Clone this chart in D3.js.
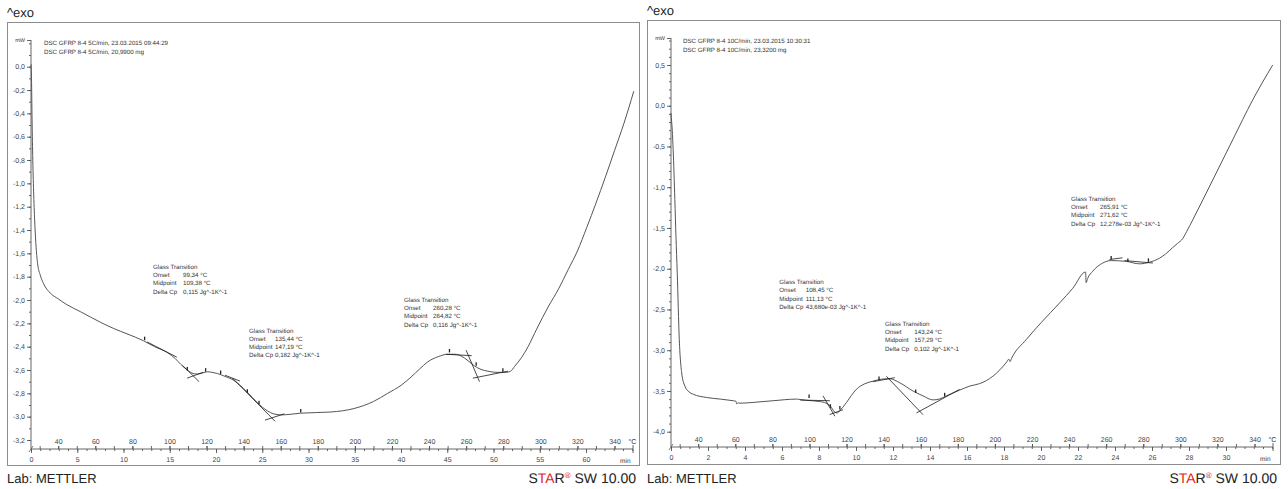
<!DOCTYPE html>
<html>
<head>
<meta charset="utf-8">
<script src="https://cdn.jsdelivr.net/npm/d3@7"></script>
<style>
  body { margin: 0; background: #fff; }
  svg { display: block; font-family: "Liberation Sans", Arial, sans-serif; text-rendering: geometricPrecision; }
  .frame { fill: none; stroke: #8c8c8c; stroke-width: 1; }
  .curve { fill: none; stroke: #555; stroke-width: 1; }
  .tangent { fill: none; stroke: #1a1a1a; stroke-width: 0.8; }
  .marker { stroke: #222; stroke-width: 1.3; }
  .axis path { display: none; }
  .axis line { stroke: #555; stroke-width: 0.9; }
  .axis text { fill: #444; font-size: 7px; font-family: "Liberation Sans", Arial, sans-serif; }
  .small { font-size: 6.2px; fill: #333; }
  .big { font-size: 13px; fill: #222; }
</style>
</head>
<body>
<svg id="chart" width="1288" height="489"></svg>
<script>
// left run: 5 C/min
const leftTemp = [25.4, 25.6, 25.9, 26.3, 26.8, 27.4, 28.1, 29.0, 30.2, 32.1,
  35.7, 40, 44.7, 52, 62.7, 70, 77.1, 86.1, 92, 98.8,
  103, 106, 109.6, 112, 115, 118, 120.4, 123, 125.8, 130,
  134.8, 138, 142, 147.4, 152.8, 156, 160, 165, 170.8, 187,
  199.6, 210, 217.7, 225, 230.3, 235, 239.3, 245, 250.1, 254,
  257.3, 261, 264.5, 268, 271.7, 276, 281.6, 284, 286.1, 290,
  293.4, 298, 304.2, 310, 315, 320, 325, 330, 335, 340,
  345, 350.4];
const leftSignal = [0.02, -0.1, -0.45, -0.8, -1.1, -1.35, -1.55, -1.70, -1.78, -1.86,
  -1.94, -1.99, -2.04, -2.10, -2.19, -2.245, -2.29, -2.35, -2.40, -2.45,
  -2.50, -2.55, -2.60, -2.625, -2.635, -2.625, -2.615, -2.62, -2.63, -2.655,
  -2.69, -2.73, -2.79, -2.88, -2.95, -2.975, -2.985, -2.98, -2.97, -2.96,
  -2.93, -2.87, -2.80, -2.73, -2.66, -2.59, -2.53, -2.485, -2.465, -2.465,
  -2.48, -2.52, -2.565, -2.595, -2.61, -2.62, -2.62, -2.61, -2.57, -2.49,
  -2.40, -2.25, -2.06, -1.90, -1.74, -1.58, -1.38, -1.17, -0.95, -0.72,
  -0.49, -0.21];

// right run: 10 C/min
const rightTemp = [25.3, 25.7, 26.0, 26.5, 27.4, 28.0, 28.7, 29.8, 31.1, 32.8,
  35, 37.3, 44.5, 52, 58.9, 60.3, 60.8, 61.5, 62.5, 70,
  80.4, 93, 95, 98.4, 105.6, 109, 111, 113.7, 115, 116.4,
  118, 120, 125.3, 130, 134.3, 139, 143.3, 148.7, 155.8, 161.2,
  166.6, 170, 173.8, 181, 186.4, 191.8, 198.9, 206.5, 207.5, 208.2,
  209, 216.9, 225, 234.9, 242, 248.9, 249.2, 250, 252.8, 258.2,
  262.7, 270.8, 278, 283.4, 288.8, 292, 295.9, 298.5, 301.3, 303.5,
  306.7, 317.5, 328.2, 339, 349.8];
const rightSignal = [-0.09, -0.2, -0.3, -0.54, -1.15, -1.6, -2.05, -2.87, -3.28, -3.44,
  -3.51, -3.54, -3.58, -3.60, -3.62, -3.625, -3.66, -3.645, -3.65, -3.64,
  -3.62, -3.60, -3.605, -3.615, -3.63, -3.65, -3.68, -3.76, -3.77, -3.74,
  -3.70, -3.64, -3.48, -3.41, -3.38, -3.355, -3.35, -3.40, -3.50, -3.56,
  -3.61, -3.60, -3.56, -3.49, -3.44, -3.41, -3.32, -3.14, -3.11, -3.14,
  -3.10, -2.87, -2.66, -2.42, -2.24, -2.04, -2.17, -2.12, -2.03, -1.93,
  -1.90, -1.91, -1.94, -1.92, -1.87, -1.82, -1.74, -1.69, -1.63, -1.54,
  -1.40, -0.91, -0.42, 0.07, 0.50];

// tangent segments [[T1, v1], [T2, v2]] and evaluation points [T, v]
const leftTangents = [
  [[88, -2.36], [104, -2.49]], [[107, -2.56], [116, -2.70]], [[109.5, -2.67], [118, -2.62]],
  [[130, -2.645], [138, -2.695]], [[134, -2.67], [157, -3.04]], [[151.5, -3.03], [162, -2.975]],
  [[249, -2.465], [263, -2.477]], [[260, -2.43], [267.2, -2.70]], [[263.6, -2.67], [282.5, -2.61]]
];
const leftMarkers = [[86.6, -2.34], [109.6, -2.60], [119.5, -2.61], [127.6, -2.63],
  [142, -2.79], [148.3, -2.89], [170.8, -2.96], [251, -2.445], [265.4, -2.56], [279.8, -2.61]];
const rightTangents = [
  [[95, -3.612], [111, -3.62]], [[107.3, -3.56], [113.7, -3.81]], [[110.9, -3.79], [118.1, -3.73]],
  [[134.3, -3.386], [146, -3.337]], [[141.5, -3.32], [161.2, -3.79]], [[157.7, -3.77], [181, -3.48]],
  [[261.8, -1.887], [268.8, -1.866]], [[269.9, -1.90], [285.2, -1.93]]
];
const rightMarkers = [[99.8, -3.58], [111.3, -3.70], [116.4, -3.72], [137.5, -3.36],
  [157.3, -3.52], [172.9, -3.56], [262.7, -1.88], [271.7, -1.91], [282.8, -1.91]];

// tick labels
const tempTicks = d3.range(40, 341, 20);
const leftTimeTicks = d3.range(0, 61, 5);
const rightTimeTicks = d3.range(0, 31, 2);
const leftSignalTicks = [0, -0.2, -0.4, -0.6, -0.8, -1.0, -1.2, -1.4, -1.6, -1.8, -2.0, -2.2, -2.4, -2.6, -2.8, -3.0, -3.2];
const rightSignalTicks = [0.5, 0, -0.5, -1.0, -1.5, -2.0, -2.5, -3.0, -3.5, -4.0];

// texts
const leftHeader = ["DSC GFRP 8-4 5C/min, 23.03.2015 09:44:29", "DSC GFRP 8-4 5C/min, 20,9900 mg"];
const rightHeader = ["DSC GFRP 8-4 10C/min, 23.03.2015 10:30:31", "DSC GFRP 8-4 10C/min, 23,3200 mg"];
const leftResults = [
  ["99,34 °C", "109,38 °C", "0,115 Jg^-1K^-1"],
  ["135,44 °C", "147,19 °C", "0,182 Jg^-1K^-1"],
  ["260,28 °C", "264,82 °C", "0,116 Jg^-1K^-1"]
];
const rightResults = [
  ["108,45 °C", "111,13 °C", "43,680e-03 Jg^-1K^-1"],
  ["143,24 °C", "157,29 °C", "0,102 Jg^-1K^-1"],
  ["265,91 °C", "271,62 °C", "12,278e-03 Jg^-1K^-1"]
];
const rowNames = ["Onset", "Midpoint", "Delta Cp"];

const svg = d3.select("#chart");
const fmt = v => v.toFixed(1).replace(".", ",").replace("-0,0", "0,0");

function drawPanel(p) {
  const g = svg.append("g").attr("transform", `translate(${p.x},${p.y})`);
  g.append("rect").attr("class", "frame").attr("x", 0.5).attr("y", 0.5).attr("width", p.w).attr("height", p.h);

  const xT = d3.scaleLinear().domain([40, 340]).range([51.2, 607.5]);
  const xTime = d3.scaleLinear().domain([0, p.timeMax]).range([24, 579]);
  const y = d3.scaleLinear().domain(p.yDomain).range(p.yRange);
  const axisY = 427, axisX = 24, axisTop = 18;

  // y axis
  g.append("line").attr("x1", axisX).attr("x2", axisX).attr("y1", axisTop).attr("y2", axisY)
    .attr("stroke", "#555").attr("stroke-width", 0.9);
  const yMinor = d3.range(Math.round(p.yDomain[0] * 10), Math.round(y.invert(axisTop) * 10) + 1).map(v => v / 10)
    .concat(d3.range(Math.round(p.yDomain[1] * 10), Math.round(p.yDomain[0] * 10)).map(v => v / 10));
  g.append("g").attr("class", "axis").attr("transform", `translate(${axisX},0)`)
    .call(d3.axisLeft(y).tickValues(yMinor).tickSize(2).tickFormat(""));
  g.append("g").attr("class", "axis").attr("transform", `translate(${axisX},0)`)
    .call(d3.axisLeft(y).tickValues(p.yTicks).tickSize(4).tickPadding(2).tickFormat(fmt));
  g.append("line").attr("x1", axisX - 4).attr("x2", axisX).attr("y1", axisTop + 0.5).attr("y2", axisTop + 0.5)
    .attr("stroke", "#555").attr("stroke-width", 0.9);
  g.append("text").attr("class", "small").attr("x", axisX - 6).attr("y", axisTop).attr("dy", "0.3em")
    .attr("text-anchor", "end").style("font-size", "5.5px").attr("fill", "#555").text("mW");

  // x axes: temperature above, time below
  const xEnd = xT(350);
  g.append("line").attr("x1", axisX).attr("x2", xEnd).attr("y1", axisY).attr("y2", axisY)
    .attr("stroke", "#555").attr("stroke-width", 0.9);
  g.append("line").attr("x1", axisX - 2).attr("x2", axisX + 2).attr("y1", axisY + 3).attr("y2", axisY - 3)
    .attr("stroke", "#555").attr("stroke-width", 0.8);
  g.append("line").attr("x1", xEnd).attr("x2", xEnd).attr("y1", axisY - 4).attr("y2", axisY + 4)
    .attr("stroke", "#555").attr("stroke-width", 0.9);
  g.append("g").attr("class", "axis").attr("transform", `translate(0,${axisY})`)
    .call(d3.axisTop(xT).tickValues(d3.range(30, 350, 10)).tickSize(3).tickFormat(""));
  g.append("g").attr("class", "axis").attr("transform", `translate(0,${axisY})`)
    .call(d3.axisTop(xT).tickValues(tempTicks).tickSize(3).tickPadding(1.8).tickFormat(d3.format("d")))
    .selectAll("text").attr("fill", "#444");
  g.append("g").attr("class", "axis").attr("transform", `translate(0,${axisY})`)
    .call(d3.axisBottom(xTime).tickValues(d3.range(0, xTime.invert(xEnd), p.timeMinor)).tickSize(2).tickFormat(""));
  g.append("g").attr("class", "axis").attr("transform", `translate(0,${axisY})`)
    .call(d3.axisBottom(xTime).tickValues(p.timeTicks).tickSize(4).tickPadding(4.5).tickFormat(d3.format("d")));
  g.append("text").attr("class", "small").attr("x", xT(340) + 14).attr("y", axisY - 4.7)
    .style("font-size", "7px").attr("fill", "#444").text("°C");
  g.append("text").attr("class", "small").attr("x", xEnd - 13).attr("y", axisY + 13.5)
    .style("font-size", "6.5px").attr("fill", "#444").text("min");

  // header
  p.header.forEach((t, i) => {
    g.append("text").attr("class", "small").attr("x", p.headerX).attr("y", 23 + i * 8.5).text(t);
  });

  // curve
  const pts = p.temp.map((t, i) => [t, p.signal[i]]);
  g.append("path").datum(pts).attr("class", "curve")
    .attr("d", d3.line().x(d => xT(d[0])).y(d => y(d[1])).curve(d3.curveMonotoneX));

  // evaluation tangents and markers
  g.selectAll(".tangent").data(p.tangents).join("line").attr("class", "tangent")
    .attr("x1", d => xT(d[0][0])).attr("y1", d => y(d[0][1]))
    .attr("x2", d => xT(d[1][0])).attr("y2", d => y(d[1][1]));
  g.selectAll(".marker").data(p.markers).join("line").attr("class", "marker")
    .attr("x1", d => xT(d[0])).attr("x2", d => xT(d[0]))
    .attr("y1", d => y(d[1]) - 3).attr("y2", d => y(d[1]) + 0.5);

  // result boxes
  p.results.forEach((r, k) => {
    const [ax, ay, off] = p.boxes[k];
    const tg = g.append("g").attr("transform", `translate(${ax},${ay})`);
    tg.append("text").attr("class", "small").attr("y", 2).text("Glass Transition");
    rowNames.forEach((n, i) => {
      tg.append("text").attr("class", "small").attr("y", 2 + (i + 1) * 8.2).text(n);
      tg.append("text").attr("class", "small").attr("x", off).attr("y", 2 + (i + 1) * 8.2).text(r[i]);
    });
  });

  // outside labels
  svg.append("text").attr("class", "big").attr("x", p.x).attr("y", p.y - 5).text("^exo");
  svg.append("text").attr("class", "big").attr("x", p.x).attr("y", 483).text("Lab: METTLER");
  const star = svg.append("text").attr("class", "big").attr("x", p.x + p.w - 3).attr("y", 483)
    .attr("text-anchor", "end").style("font-size", "14px");
  star.append("tspan").attr("fill", "#222").text("S");
  star.append("tspan").attr("fill", "#e3231b").text("TA");
  star.append("tspan").attr("fill", "#222").text("R");
  star.append("tspan").attr("fill", "#e3231b").attr("dy", -5).style("font-size", "8px").text("®");
  star.append("tspan").attr("fill", "#222").attr("dy", 5).text(" SW 10.00");
}

drawPanel({
  x: 7, y: 22, w: 632, h: 443,
  yDomain: [0, -3.2], yRange: [44.7, 418], yTicks: leftSignalTicks,
  timeMax: 60, timeTicks: leftTimeTicks, timeMinor: 1,
  temp: leftTemp, signal: leftSignal, tangents: leftTangents, markers: leftMarkers,
  header: leftHeader, headerX: 37, results: leftResults,
  boxes: [[146, 245, 30], [242, 308.7, 26], [397, 278, 29]]
});
drawPanel({
  x: 647, y: 20, w: 633, h: 444,
  yDomain: [0.5, -4.0], yRange: [45, 411.7], yTicks: rightSignalTicks,
  timeMax: 30, timeTicks: rightTimeTicks, timeMinor: 0.5,
  temp: rightTemp, signal: rightSignal, tangents: rightTangents, markers: rightMarkers,
  header: rightHeader, headerX: 36, results: rightResults,
  boxes: [[132.3, 262.3, 26.4], [238, 304, 29.3], [424, 179, 29]]
});
</script>
</body>
</html>
